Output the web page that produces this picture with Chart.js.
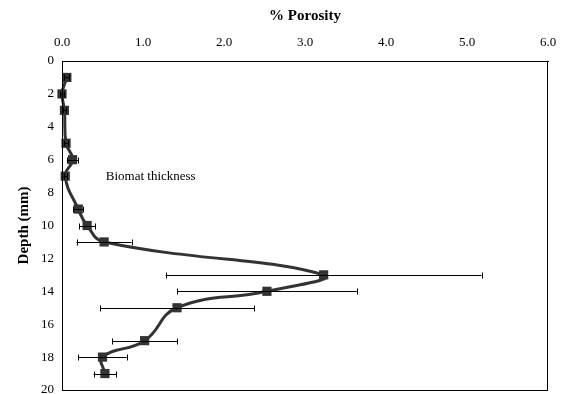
<!DOCTYPE html>
<html>
<head>
<meta charset="utf-8">
<script src="https://cdn.jsdelivr.net/npm/chart.js@4/dist/chart.umd.min.js"></script>
<style>
  html, body { margin: 0; padding: 0; background: #fff; }
  #wrap { width: 564px; height: 394px; }
</style>
</head>
<body>
<div id="wrap"><canvas id="c" width="564" height="394"></canvas></div>
<script>
// Data
const depths   = [1, 2, 3, 5, 6, 7, 9, 10, 11, 13, 14, 15, 17, 18, 19];
const porosity = [0.06, 0.0, 0.03, 0.05, 0.13, 0.04, 0.20, 0.31, 0.52, 3.23, 2.53, 1.42, 1.02, 0.50, 0.53];
const errors   = [0.03, 0.02, 0.02, 0.02, 0.07, 0.02, 0.06, 0.10, 0.34, 1.95, 1.11, 0.95, 0.40, 0.30, 0.14];
const xTicks   = [0, 1, 2, 3, 4, 5, 6];
const yTicks   = [0, 2, 4, 6, 8, 10, 12, 14, 16, 18, 20];
const annotationText = "Biomat thickness";
const annotationPos = { x: 0.54, y: 7.0 };

const points = depths.map((d, i) => ({ x: porosity[i], y: d }));
const FONT = "'Liberation Serif', 'Times New Roman', serif";

const errorBars = {
  id: 'errorBars',
  afterDatasetsDraw(chart) {
    const ctx = chart.ctx, xs = chart.scales.x, ys = chart.scales.y;
    ctx.save();
    ctx.strokeStyle = '#000';
    ctx.lineWidth = 1;
    depths.forEach((d, i) => {
      const y = Math.round(ys.getPixelForValue(d)) + 0.5;
      const x1 = xs.getPixelForValue(porosity[i] - errors[i]);
      const x2 = xs.getPixelForValue(porosity[i] + errors[i]);
      ctx.beginPath();
      ctx.moveTo(x1, y); ctx.lineTo(x2, y);
      ctx.moveTo(Math.round(x1) + 0.5, y - 3); ctx.lineTo(Math.round(x1) + 0.5, y + 3);
      ctx.moveTo(Math.round(x2) + 0.5, y - 3); ctx.lineTo(Math.round(x2) + 0.5, y + 3);
      ctx.stroke();
    });
    ctx.restore();
  }
};

const frame = {
  id: 'frame',
  afterDraw(chart) {
    const { ctx, chartArea: a } = chart;
    ctx.save();
    ctx.strokeStyle = '#000';
    ctx.lineWidth = 1;
    ctx.strokeRect(Math.round(a.left) + 0.5, Math.round(a.top) + 0.5,
                   Math.round(a.right - a.left) - 1, Math.round(a.bottom - a.top));
    const xs = chart.scales.x, ys = chart.scales.y;
    ctx.fillStyle = '#000';
    ctx.font = '13px ' + FONT;
    ctx.textAlign = 'left';
    ctx.textBaseline = 'middle';
    ctx.fillText(annotationText, xs.getPixelForValue(annotationPos.x), ys.getPixelForValue(annotationPos.y));
    ctx.restore();
  }
};

new Chart(document.getElementById('c'), {
  type: 'scatter',
  data: {
    datasets: [{
      data: points,
      showLine: true,
      borderColor: '#333333',
      backgroundColor: '#333333',
      borderWidth: 3,
      tension: 0.45,
      pointStyle: 'rect',
      pointRadius: 6.5,
      pointBorderWidth: 0,
      pointBackgroundColor: '#333333',
      clip: false
    }]
  },
  options: {
    responsive: false,
    animation: false,
    devicePixelRatio: 1,
    layout: { autoPadding: false, padding: { left: 0, right: 16, top: 0, bottom: 4 } },
    plugins: { legend: { display: false }, tooltip: { enabled: false } },
    scales: {
      x: {
        type: 'linear',
        position: 'top',
        min: 0, max: 6,
        afterBuildTicks(s) { s.ticks = xTicks.map(v => ({ value: v })); },
        afterFit(s) { s.height = 61; s.paddingLeft = 0; s.paddingRight = 0; s.paddingTop = 0; s.paddingBottom = 0; },
        grid: { display: false, drawTicks: true, tickLength: 4, color: '#000' },
        border: { display: true, color: '#000', width: 1 },
        ticks: {
          color: '#000',
          font: { family: FONT, size: 13 },
          padding: 7,
          maxRotation: 0,
          callback: v => Number(v).toFixed(1)
        },
        title: {
          display: true,
          text: '% Porosity',
          color: '#000',
          font: { family: FONT, size: 15, weight: 'bold' },
          padding: { top: 7, bottom: 4 }
        }
      },
      y: {
        type: 'linear',
        reverse: true,
        min: 0, max: 20,
        afterBuildTicks(s) { s.ticks = yTicks.map(v => ({ value: v })); },
        afterFit(s) { s.width = 62; s.paddingTop = 0; s.paddingBottom = 0; },
        grid: { display: false, drawTicks: true, tickLength: 4, color: '#000' },
        border: { display: true, color: '#000', width: 1 },
        ticks: {
          color: '#000',
          font: { family: FONT, size: 13 },
          padding: 4
        },
        title: {
          display: true,
          text: 'Depth (mm)',
          color: '#000',
          font: { family: FONT, size: 15, weight: 'bold' },
          padding: { top: 15, bottom: 4 }
        }
      }
    }
  },
  plugins: [errorBars, frame]
});
</script>
</body>
</html>
